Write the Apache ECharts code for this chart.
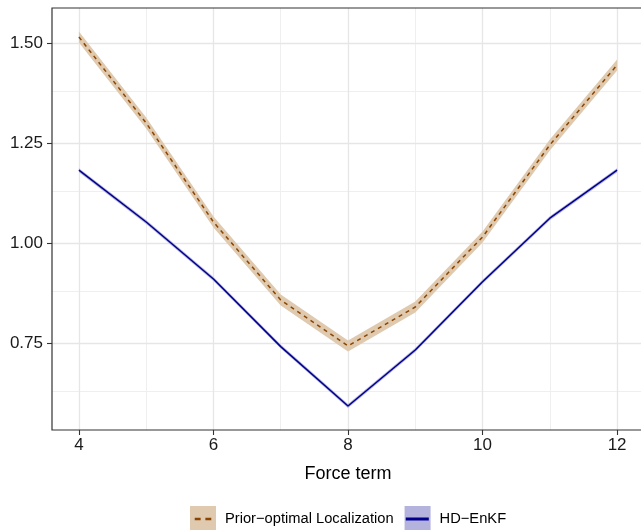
<!DOCTYPE html>
<html>
<head>
<meta charset="utf-8">
<script src="https://cdn.jsdelivr.net/npm/echarts@6/dist/echarts.min.js"></script>
<style>
html,body{margin:0;padding:0;overflow:hidden;background:#fff;}
#c{width:644px;height:530px;}
</style>
</head>
<body>
<div id="c"></div>
<script>
// ---- data ----
var forceTerm = [4, 5, 6, 7, 8, 9, 10, 11, 12];
var priorMean = [1.515, 1.300, 1.0525, 0.8575, 0.7425, 0.840, 1.015, 1.245, 1.445];
var priorLow  = [1.501, 1.286, 1.0385, 0.8435, 0.7285, 0.826, 1.001, 1.231, 1.431];
var priorHigh = [1.529, 1.314, 1.0665, 0.8715, 0.7565, 0.854, 1.029, 1.259, 1.459];
var hdMean = [1.182, 1.0525, 0.910, 0.741, 0.5925, 0.7325, 0.903, 1.062, 1.182];
var hdLow  = [1.177, 1.0475, 0.905, 0.736, 0.5875, 0.7275, 0.898, 1.057, 1.177];
var hdHigh = [1.187, 1.0575, 0.915, 0.746, 0.5975, 0.7375, 0.908, 1.067, 1.187];
var xTicks = [4, 6, 8, 10, 12];
var xMinor = [5, 7, 9, 11];
var yTicks = [0.75, 1.00, 1.25, 1.50];
var yMinor = [0.625, 0.875, 1.125, 1.375];
var nameA = 'Prior\u2212optimal Localization';
var nameB = 'HD\u2212EnKF';

var FONT = 'Liberation Sans, Arial, Helvetica, sans-serif';

function ribbon(low, high, color) {
  return function (params, api) {
    if (params.dataIndex !== 0) return null;
    var pts = [];
    for (var i = 0; i < forceTerm.length; i++) pts.push(api.coord([forceTerm[i], high[i]]));
    for (var j = forceTerm.length - 1; j >= 0; j--) pts.push(api.coord([forceTerm[j], low[j]]));
    return { type: 'polygon', shape: { points: pts }, style: { fill: color, stroke: null } };
  };
}

var majorStyle = { color: '#E6E6E6', width: 1.3, type: 'solid' };
var minorStyle = { color: '#EFEFEF', width: 1, type: 'solid' };
var gridLines = [];
xMinor.forEach(function (v) { gridLines.push({ xAxis: v, lineStyle: minorStyle }); });
yMinor.forEach(function (v) { gridLines.push({ yAxis: v, lineStyle: minorStyle }); });
xTicks.forEach(function (v) { gridLines.push({ xAxis: v, lineStyle: majorStyle }); });
yTicks.forEach(function (v) { gridLines.push({ yAxis: v, lineStyle: majorStyle }); });

var legendBase = {
  left: 190, top: 506, orient: 'horizontal',
  itemWidth: 26, itemHeight: 26, itemGap: 11, padding: 0,
  selectedMode: false,
  textStyle: { fontFamily: FONT, fontSize: 14.7, color: '#000', padding: [0, 0, 0, 4] }
};
var dashIcon = 'path://M0,0h0.01v0.01h-0.01z M4,10h5v2h-5z M13,10h5v2h-5z M21.99,21.99h0.01v0.01h-0.01z';
var solidIcon = 'path://M0,0h0.01v0.01h-0.01z M1,9.8h19.5v2.4h-19.5z M21.99,21.99h0.01v0.01h-0.01z';

var option = {
  animation: false,
  backgroundColor: '#fff',
  grid: { left: 52, right: 0, top: 8, bottom: 100, show: true, borderColor: '#333', borderWidth: 1.2, backgroundColor: 'transparent', z: 10 },
  xAxis: {
    type: 'value', min: 3.6, max: 12.4,
    name: 'Force term', nameLocation: 'middle', nameGap: 35,
    nameTextStyle: { fontFamily: FONT, fontSize: 18, color: '#000' },
    axisLine: { show: false },
    axisTick: { show: true, length: 5, lineStyle: { color: '#333', width: 1.1 }, customValues: xTicks },
    axisLabel: { show: true, margin: 7, fontFamily: FONT, fontSize: 17, color: '#1a1a1a', customValues: xTicks, formatter: function (v) { return String(v); } },
    splitLine: { show: false }
  },
  yAxis: {
    type: 'value', min: 0.5325, max: 1.5875,
    axisLine: { show: false },
    axisTick: { show: true, length: 5, lineStyle: { color: '#333', width: 1.1 }, customValues: yTicks },
    axisLabel: { show: true, margin: 9, fontFamily: FONT, fontSize: 17, color: '#1a1a1a', customValues: yTicks, formatter: function (v) { return v.toFixed(2); } },
    splitLine: { show: false }
  },
  legend: [
    Object.assign({}, legendBase, {
      data: [
        { name: nameA, icon: 'rect', itemStyle: { color: '#DFC9AF', borderWidth: 0 } },
        { name: nameB, icon: 'rect', itemStyle: { color: '#B3B3DE', borderWidth: 0 } }
      ]
    }),
    Object.assign({}, legendBase, {
      textStyle: Object.assign({}, legendBase.textStyle, { color: 'rgba(0,0,0,0)' }),
      data: [
        { name: nameA, icon: dashIcon, itemStyle: { color: '#8B4500', borderWidth: 0 } },
        { name: nameB, icon: solidIcon, itemStyle: { color: '#00008B', borderWidth: 0 } }
      ]
    })
  ],
  series: [
    {
      name: 'grid', type: 'line', data: [], z: 1, silent: true,
      markLine: { silent: true, z: 1, symbol: ['none', 'none'], label: { show: false }, animation: false, data: gridLines }
    },
    {
      name: nameA, type: 'custom', z: 2, silent: true,
      renderItem: ribbon(priorLow, priorHigh, '#DFC9AF'),
      data: forceTerm.map(function (x, i) { return [x, priorLow[i], priorHigh[i]]; }),
      encode: { x: 0, y: [1, 2] }
    },
    {
      name: nameB, type: 'custom', z: 2, silent: true,
      renderItem: ribbon(hdLow, hdHigh, '#B3B3DE'),
      data: forceTerm.map(function (x, i) { return [x, hdLow[i], hdHigh[i]]; }),
      encode: { x: 0, y: [1, 2] }
    },
    {
      name: nameA, type: 'line', z: 3, symbol: 'none', silent: true,
      data: forceTerm.map(function (x, i) { return [x, priorMean[i]]; }),
      lineStyle: { color: '#8B4500', width: 1.5, type: [4, 4] },
      itemStyle: { color: '#8B4500' }
    },
    {
      name: nameB, type: 'line', z: 3, symbol: 'none', silent: true,
      data: forceTerm.map(function (x, i) { return [x, hdMean[i]]; }),
      lineStyle: { color: '#00008B', width: 1.5 },
      itemStyle: { color: '#00008B' }
    }
  ]
};

var chart = echarts.init(document.getElementById('c'), null, { renderer: 'canvas' });
chart.setOption(option);
</script>
</body>
</html>
